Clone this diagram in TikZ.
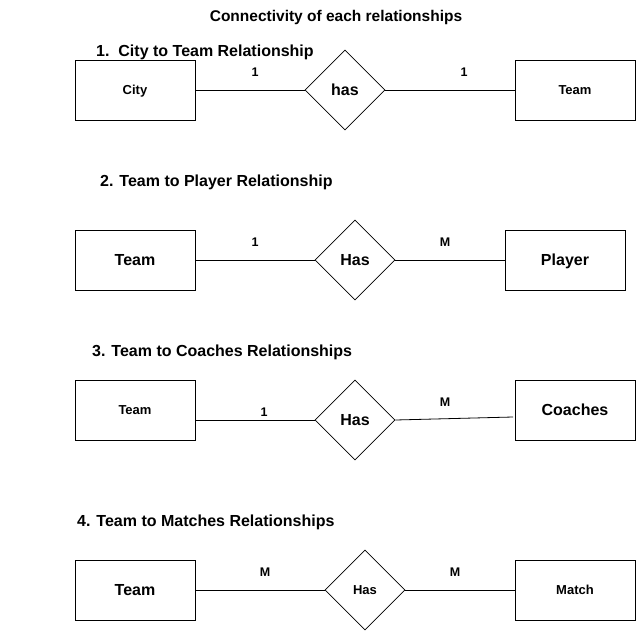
\documentclass[tikz,border=0pt]{standalone}
\usepackage{fontspec}
\setmainfont{Liberation Sans}
\usetikzlibrary{shapes.geometric}
\begin{document}
\begin{tikzpicture}[x=1pt,y=-1pt,
  entity/.style={draw,line width=0.8pt,minimum width=120pt,minimum height=60pt,inner sep=0pt,text depth=0pt},
  rel/.style={draw,line width=0.8pt,diamond,minimum width=80pt,minimum height=80pt,inner sep=0pt,aspect=1,text depth=0pt},
  conn/.style={line width=0.8pt},
  card/.style={font=\fontsize{12.5}{14}\selectfont\bfseries,inner sep=0pt},
  head/.style={font=\fontsize{16}{18}\selectfont\bfseries,inner sep=0pt,anchor=west},
  big/.style={font=\fontsize{16}{18}\selectfont\bfseries},
  small/.style={font=\fontsize{13}{15}\selectfont\bfseries}]
\useasboundingbox (0,0) rectangle (636,631);
\node[inner sep=0pt,font=\fontsize{15.5}{17}\selectfont\bfseries] (title) at (336,17) {Connectivity of each relationships};
% Row 1
\node[head] (h1) at (96,52) {1.\ \ City to Team Relationship};
\node[entity,small] (city) at (135,90) {City};
\node[rel,big] (d1) at (345,90) {has};
\node[entity,small] (team1) at (575,90) {Team};
\draw[conn] (city) -- (d1);
\draw[conn] (d1) -- (team1);
\node[card] (l1a) at (255,72) {1};
\node[card] (l1b) at (464,72) {1};
% Row 2
\node[head] (h2) at (100,182) {2. Team to Player Relationship};
\node[entity,big] (team2) at (135,260) {Team};
\node[rel,big] (d2) at (355,260) {Has};
\node[entity,big] (player) at (565,260) {Player};
\draw[conn] (team2) -- (d2);
\draw[conn] (d2) -- (player);
\node[card] (l2a) at (255,242) {1};
\node[card] (l2b) at (445,242) {M};
% Row 3
\node[head] (h3) at (92,352) {3. Team to Coaches Relationships};
\node[entity,small] (team3) at (135,410) {Team};
\node[rel,big] (d3) at (355,420) {Has};
\node[entity,big] (coach) at (575,410) {Coaches};
\coordinate (c3end) at (513,417);
\draw[conn] (team3.east |- d3.west) -- (d3.west);
\draw[conn] (d3.east) -- (c3end);
\node[card] (l3a) at (264,412) {1};
\node[card] (l3b) at (445,402) {M};
% Row 4
\node[head] (h4) at (77,522) {4. Team to Matches Relationships};
\node[entity,big] (team4) at (135,590) {Team};
\node[rel,small] (d4) at (365,590) {Has};
\node[entity,small] (match) at (575,590) {Match};
\draw[conn] (team4) -- (d4);
\draw[conn] (d4) -- (match);
\node[card] (l4a) at (265,572) {M};
\node[card] (l4b) at (455,572) {M};
\end{tikzpicture}
\end{document}
